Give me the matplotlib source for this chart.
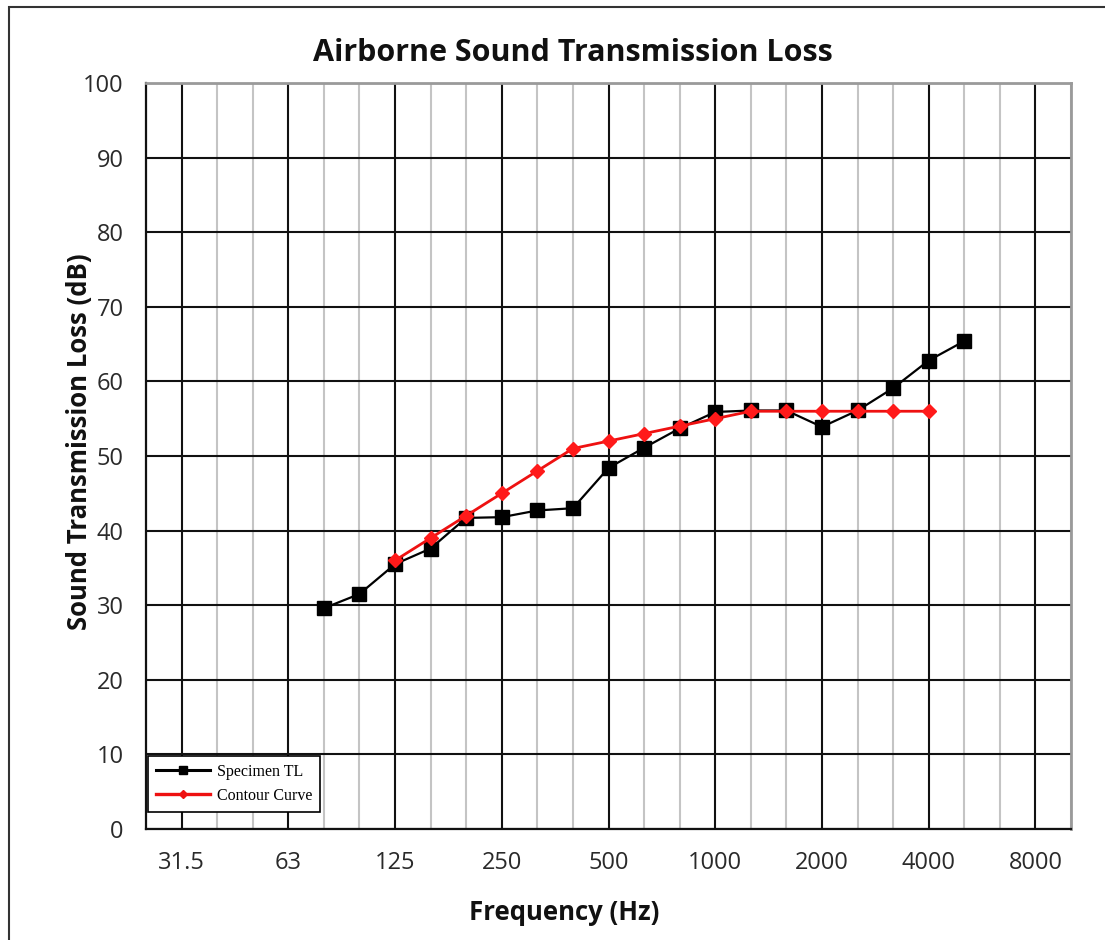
import matplotlib
matplotlib.use("Agg")
import matplotlib.pyplot as plt
from matplotlib.patches import Rectangle
from matplotlib.lines import Line2D

# ---- data ----
bands = ['25', '31.5', '40', '50', '63', '80', '100', '125', '160', '200', '250',
         '315', '400', '500', '630', '800', '1000', '1250', '1600', '2000', '2500',
         '3150', '4000', '5000', '6300', '8000', '10000']
octave_labels = ['31.5', '63', '125', '250', '500', '1000', '2000', '4000', '8000']

specimen_freqs = ['80', '100', '125', '160', '200', '250', '315', '400', '500', '630',
                  '800', '1000', '1250', '1600', '2000', '2500', '3150', '4000', '5000']
specimen_tl = [29.6, 31.5, 35.5, 37.6, 41.7, 41.8, 42.7, 43.0, 48.4, 51.1,
               53.7, 55.9, 56.1, 56.1, 53.9, 56.1, 59.1, 62.8, 65.4]

contour_freqs = ['125', '160', '200', '250', '315', '400', '500', '630', '800', '1000',
                 '1250', '1600', '2000', '2500', '3150', '4000']
contour_tl = [36, 39, 42, 45, 48, 51, 52, 53, 54, 55, 56, 56, 56, 56, 56, 56]

yticks = [0, 10, 20, 30, 40, 50, 60, 70, 80, 90, 100]

W, H = 1105, 940
fig = plt.figure(figsize=(W / 100, H / 100), dpi=100)
fig.patch.set_facecolor('white')

# outer frame (left and top visible)
fig.add_artist(Rectangle((9 / W, -0.1), 1.2, 1 - 7 / H + 0.1, transform=fig.transFigure,
                         fill=False, edgecolor='#333333', linewidth=1.5))

ax = fig.add_axes([146 / W, 1 - 829 / H, (1071 - 146) / W, (829 - 83) / H])

idx = {b: i for i, b in enumerate(bands)}
sx = [idx[f] for f in specimen_freqs]
cx = [idx[f] for f in contour_freqs]

ax.set_xlim(0, len(bands) - 1)
ax.set_ylim(0, 100)

major_pos = [idx[b] for b in octave_labels]
minor_pos = [i for i in range(len(bands)) if i not in major_pos]
ax.set_xticks(major_pos)
ax.set_xticklabels(octave_labels)
ax.set_xticks(minor_pos, minor=True)
ax.set_yticks(yticks)
ax.set_yticklabels([str(v) for v in yticks])

ax.grid(True, which='major', axis='both', color='#111111', linewidth=1.5, zorder=0)
ax.grid(True, which='minor', axis='x', color='#c4c4c4', linewidth=1.5, zorder=0)
ax.set_axisbelow(True)

ax.tick_params(axis='both', which='both', length=0)
ax.tick_params(axis='x', pad=16, labelsize=17, labelcolor='#2a2a2a')
ax.tick_params(axis='y', pad=16, labelsize=17, labelcolor='#2a2a2a')
for lab in ax.get_xticklabels() + ax.get_yticklabels():
    lab.set_fontfamily('Open Sans')

for s in ['left', 'bottom']:
    ax.spines[s].set_color('#111111')
    ax.spines[s].set_linewidth(1.6)
for s in ['top', 'right']:
    ax.spines[s].set_color('#9a9a9a')
    ax.spines[s].set_linewidth(2.0)

ax.plot(sx, specimen_tl, color='black', linewidth=1.6, marker='s', markersize=10.5,
        markerfacecolor='black', markeredgecolor='black', zorder=3, label='Specimen TL')
ax.plot(cx, contour_tl, color='#ee1111', linewidth=2.0, marker='D', markersize=7,
        markerfacecolor='#ff1a1a', markeredgecolor='#ff1a1a', zorder=4, label='Contour Curve')

handles = [Line2D([], [], color='black', linewidth=2.2, marker='s', markersize=6),
           Line2D([], [], color='#ee1111', linewidth=2.4, marker='D', markersize=4)]
leg = ax.legend(handles, ['Specimen TL', 'Contour Curve'], loc='lower left',
                bbox_to_anchor=(0.002, 0.023), borderaxespad=0, fancybox=False,
                framealpha=1, edgecolor='black', handlelength=3.4, handletextpad=0.4,
                borderpad=0.5, labelspacing=0.5, handleheight=0.7,
                prop={'family': 'Liberation Serif', 'size': 11.5})
leg.get_frame().set_linewidth(1.2)

fig.text(573 / W, 1 - 53 / H, 'Airborne Sound Transmission Loss', ha='center', va='center',
         fontsize=22, fontweight='bold', family='Open Sans', color='#111111')
fig.text(564 / W, 1 - 913 / H, 'Frequency (Hz)', ha='center', va='center',
         fontsize=18.5, fontweight='bold', family='Open Sans', color='#111111')
fig.text(80 / W, 1 - 442 / H, 'Sound Transmission Loss (dB)', ha='center', va='center',
         rotation=90, fontsize=18.5, fontweight='bold', family='Open Sans', color='#111111')

fig.savefig('out.png', dpi=100)
